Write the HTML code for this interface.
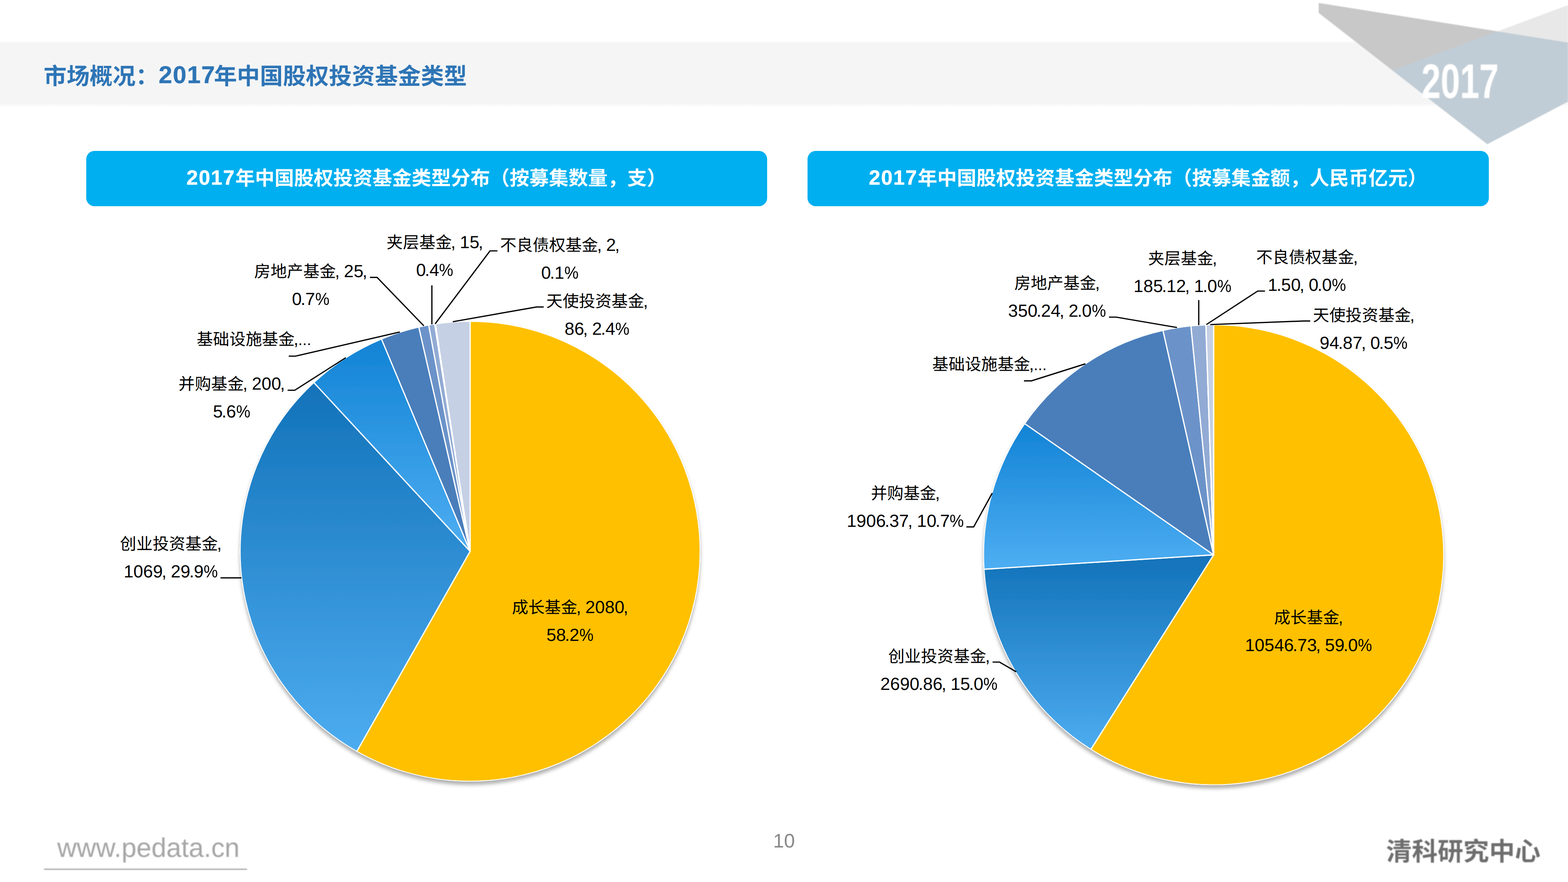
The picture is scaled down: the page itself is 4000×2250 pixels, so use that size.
<!DOCTYPE html>
<html lang="zh-CN">
<head>
<meta charset="utf-8">
<title>市场概况：2017年中国股权投资基金类型</title>
<style>
html,body{margin:0;padding:0;background:#fff}
body{width:4000px;height:2250px;position:relative;overflow:hidden;font-family:"Liberation Sans","Noto Sans CJK SC",sans-serif;color:#000;text-rendering:geometricPrecision;-webkit-font-smoothing:antialiased}
.abs{position:absolute}
#band{position:absolute;left:0;top:103px;width:4000px;height:169px;background:linear-gradient(to bottom,rgba(245,245,245,0) 0,#f5f5f5 8px,#f5f5f5 161px,rgba(245,245,245,0) 169px)}
#title{position:absolute;left:111.25px;top:155px;margin:0;font-size:58.7px;line-height:80px;font-weight:bold;color:#2E75B6;white-space:nowrap}
#title .d{font-size:62px;letter-spacing:1.75px;margin-right:-4px;position:relative;top:-2.8px;-webkit-text-stroke:0.6px currentColor}
.box{position:absolute;top:384.5px;height:141.8px;border-radius:21px;background:#00AFEF;color:#fff;font-weight:bold;font-size:50px;line-height:141.8px;text-align:center;white-space:nowrap}
.box .d{font-size:52.4px;letter-spacing:1.95px;position:relative;top:-1px;-webkit-text-stroke:0.7px currentColor}
#box1{left:219.5px;width:1737px}
#box2{left:2060px;width:1737.5px}
.lb{position:absolute;transform:translateX(-50%);text-align:center;white-space:nowrap;font-size:44.8px;line-height:71.0px;word-spacing:-1px}
.lb .cj{font-size:41.67px}
.lb .p{margin-left:-2.7px;margin-right:-0.7px}
.lb .pc{display:inline-block;transform:scaleX(.91);transform-origin:0 50%;margin-right:-3.6px}
.lb .el{font-size:35px;margin-left:-1px;-webkit-text-stroke:0.5px #000}
#chart{position:absolute;left:0;top:0}
#pg{position:absolute;left:1900px;width:200px;top:2127.8px;text-align:center;font-size:50px;line-height:1;color:#898989;transform:translateY(-7.8px)}
#url{position:absolute;left:112px;top:2115.8px;width:518px;height:100px;border-bottom:3.8px solid #a4a4a4;color:#a6a6a6;font-size:68.6px;line-height:94px;text-indent:34px;white-space:nowrap;filter:blur(0.9px)}
</style>
</head>
<body>
<div id="band"></div>
<svg id="deco" class="abs" style="left:3300px;top:0" width="700" height="400" viewBox="3300 0 700 400">
<g filter="url(#bl)">
<polygon points="3364,7.5 4000,108.5 4000,259 3794,367.8 3364,33" fill="#c8c8c8"/>
<polygon points="3820,79.9 4000,13 4000,108.5" fill="#e8e8e8"/>
<polygon points="3552,179.4 3820,79.9 4000,108.5 4000,259 3794,367.8" fill="#c1cdd6"/>
<text x="3626" y="250" font-size="124" font-weight="bold" font-family="'Liberation Sans',sans-serif" fill="#fff" textLength="197" lengthAdjust="spacingAndGlyphs">2017</text>
</g>
<defs><filter id="bl"><feGaussianBlur stdDeviation="1.2"/></filter></defs>
</svg>
<h1 id="title">市场概况：<span class="d">2017</span>年中国股权投资基金类型</h1>
<div class="box" id="box1"><span class="d">2017</span>年中国股权投资基金类型分布（按募集数量，支）</div>
<div class="box" id="box2"><span class="d">2017</span>年中国股权投资基金类型分布（按募集金额，人民币亿元）</div>
<svg id="chart" width="4000" height="2250" viewBox="0 0 4000 2250">
<defs>
<linearGradient id="gA" x1="0" y1="0" x2="0" y2="1"><stop offset="0" stop-color="#1272B9"/><stop offset="1" stop-color="#4DACF0"/></linearGradient>
<linearGradient id="gB" x1="0" y1="0" x2="0" y2="1"><stop offset="0" stop-color="#1283D5"/><stop offset="1" stop-color="#4EAEF2"/></linearGradient>
<filter id="sh" x="-5%" y="-5%" width="110%" height="112%"><feDropShadow dx="0" dy="8.5" stdDeviation="5" flood-color="#000" flood-opacity="0.31"/></filter>
</defs>
<clipPath id="pieLc"><circle cx="1199.3" cy="1406.35" r="587.5"/></clipPath><g id="pieL" filter="url(#sh)"><g clip-path="url(#pieLc)" stroke="#fff" stroke-width="3.1" stroke-linejoin="round"><path d="M1199.3 1406.35L1199.3 819.45A586.9 586.9 0 1 1 910.18 1917.1Z" fill="#FFC000"/><path d="M1199.3 1406.35L910.18 1917.1A586.9 586.9 0 0 1 800.47 975.79Z" fill="url(#gA)"/><path d="M1199.3 1406.35L800.47 975.79A586.9 586.9 0 0 1 973.15 864.77Z" fill="url(#gB)"/><path d="M1199.3 1406.35L973.15 864.77A586.9 586.9 0 0 1 1068.34 834.25Z" fill="#4A7EBB"/><path d="M1199.3 1406.35L1068.34 834.25A586.9 586.9 0 0 1 1093.61 829.05Z" fill="#6C93C9"/><path d="M1199.3 1406.35L1093.61 829.05A586.9 586.9 0 0 1 1108.86 826.46Z" fill="#92ABD4"/><path d="M1199.3 1406.35L1108.86 826.46A586.9 586.9 0 0 1 1110.9 826.15Z" fill="#B3C3DF"/><path d="M1199.3 1406.35L1110.9 826.15A586.9 586.9 0 0 1 1199.3 819.45Z" fill="#C5D0E4"/></g></g>
<clipPath id="pieRc"><circle cx="3096" cy="1415.4" r="587.7"/></clipPath><g id="pieR" filter="url(#sh)"><g clip-path="url(#pieRc)" stroke="#fff" stroke-width="3.1" stroke-linejoin="round"><path d="M3096 1415.4L3096 828.3A587.1 587.1 0 1 1 2782.64 1911.88Z" fill="#FFC000"/><path d="M3096 1415.4L2782.64 1911.88A587.1 587.1 0 0 1 2510.05 1452.12Z" fill="url(#gA)"/><path d="M3096 1415.4L2510.05 1452.12A587.1 587.1 0 0 1 2613.79 1080.5Z" fill="url(#gB)"/><path d="M3096 1415.4L2613.79 1080.5A587.1 587.1 0 0 1 2966.79 842.7Z" fill="#4A7EBB"/><path d="M3096 1415.4L2966.79 842.7A587.1 587.1 0 0 1 3038.04 831.17Z" fill="#6C93C9"/><path d="M3096 1415.4L3038.04 831.17A587.1 587.1 0 0 1 3076.13 828.64Z" fill="#92ABD4"/><path d="M3096 1415.4L3076.13 828.64A587.1 587.1 0 0 1 3076.44 828.63Z" fill="#B3C3DF"/><path d="M3096 1415.4L3076.44 828.63A587.1 587.1 0 0 1 3096 828.3Z" fill="#C5D0E4"/></g></g>
<g fill="none" stroke="#000" stroke-width="3.2"><polyline points="562.5,1474.2 616,1474.2"/><polyline points="733.7,995.5 752,995.5 882,912.5"/><polyline points="736.6,908.5 754,908.5 1020,847"/><polyline points="943.7,707.6 961.9,707.6 1081.25,831.25"/><polyline points="1101.75,728 1101.75,827.5"/><polyline points="1269,640 1250,640 1110,826.25"/><polyline points="1387,783.1 1368.75,783.1 1155,820.75"/><polyline points="2532,1689 2549.9,1689 2592.6,1713.9"/><polyline points="2465.2,1344.2 2483.9,1344.2 2531.2,1258"/><polyline points="2612.2,971.6 2631.2,971.6 2768.9,928.1"/><polyline points="2829,809 2847.5,809 3002.5,835.5"/><polyline points="3058,765.5 3058,829.5"/><polyline points="3227,742.5 3208.4,742.5 3077.5,828"/><polyline points="3342.4,818.9 3325,818.9 3087.5,828"/></g>
</svg>
<div class="lb" style="left:1454px;top:1514.38px"><span class="cj">成长基金</span><span class="p">,</span> 2080<span class="p">,</span><br>58<span class="p">.</span>2<span class="pc">%</span></div>
<div class="lb" style="left:435.6px;top:1351.98px"><span class="cj">创业投资基金</span><span class="p">,</span><br>1069<span class="p">,</span> 29<span class="p">.</span>9<span class="pc">%</span></div>
<div class="lb" style="left:590.8px;top:944.48px"><span class="cj">并购基金</span><span class="p">,</span> 200<span class="p">,</span><br>5<span class="p">.</span>6<span class="pc">%</span></div>
<div class="lb" style="left:648.2px;top:830.08px"><span class="cj">基础设施基金</span><span class="p">,</span><span class="el">…</span></div>
<div class="lb" style="left:792.4px;top:657.18px"><span class="cj">房地产基金</span><span class="p">,</span> 25<span class="p">,</span><br>0<span class="p">.</span>7<span class="pc">%</span></div>
<div class="lb" style="left:1109px;top:583.48px"><span class="cj">夹层基金</span><span class="p">,</span> 15<span class="p">,</span><br>0<span class="p">.</span>4<span class="pc">%</span></div>
<div class="lb" style="left:1428px;top:589.58px"><span class="cj">不良债权基金</span><span class="p">,</span> 2<span class="p">,</span><br>0<span class="p">.</span>1<span class="pc">%</span></div>
<div class="lb" style="left:1523px;top:732.58px"><span class="cj">天使投资基金</span><span class="p">,</span><br>86<span class="p">,</span> 2<span class="p">.</span>4<span class="pc">%</span></div>
<div class="lb" style="left:3338px;top:1540.28px"><span class="cj">成长基金</span><span class="p">,</span><br>10546<span class="p">.</span>73<span class="p">,</span> 59<span class="p">.</span>0<span class="pc">%</span></div>
<div class="lb" style="left:2395.4px;top:1638.98px"><span class="cj">创业投资基金</span><span class="p">,</span><br>2690<span class="p">.</span>86<span class="p">,</span> 15<span class="p">.</span>0<span class="pc">%</span></div>
<div class="lb" style="left:2309.5px;top:1222.78px"><span class="cj">并购基金</span><span class="p">,</span><br>1906<span class="p">.</span>37<span class="p">,</span> 10<span class="p">.</span>7<span class="pc">%</span></div>
<div class="lb" style="left:2524.6px;top:893.58px"><span class="cj">基础设施基金</span><span class="p">,</span><span class="el">…</span></div>
<div class="lb" style="left:2696.5px;top:686.98px"><span class="cj">房地产基金</span><span class="p">,</span><br>350<span class="p">.</span>24<span class="p">,</span> 2<span class="p">.</span>0<span class="pc">%</span></div>
<div class="lb" style="left:3016.5px;top:624.38px"><span class="cj">夹层基金</span><span class="p">,</span><br>185<span class="p">.</span>12<span class="p">,</span> 1<span class="p">.</span>0<span class="pc">%</span></div>
<div class="lb" style="left:3334px;top:621.08px"><span class="cj">不良债权基金</span><span class="p">,</span><br>1<span class="p">.</span>50<span class="p">,</span> 0<span class="p">.</span>0<span class="pc">%</span></div>
<div class="lb" style="left:3478.8px;top:768.78px"><span class="cj">天使投资基金</span><span class="p">,</span><br>94<span class="p">.</span>87<span class="p">,</span> 0<span class="p">.</span>5<span class="pc">%</span></div>
<div id="pg">10</div>
<div id="url">www.pedata.cn</div>
<svg id="logo" class="abs" style="left:3500px;top:2110px" width="460" height="120" viewBox="3500 2110 460 120" ><g fill="#6e6e6e" filter="url(#bl2)"><text x="3536" y="2195" font-size="65" font-weight="bold" font-family="'Liberation Sans','Noto Sans CJK SC',sans-serif" textLength="394" lengthAdjust="spacingAndGlyphs">清科研究中心</text></g><defs><filter id="bl2"><feGaussianBlur stdDeviation="0.9"/></filter></defs></svg>
</body>
</html>
